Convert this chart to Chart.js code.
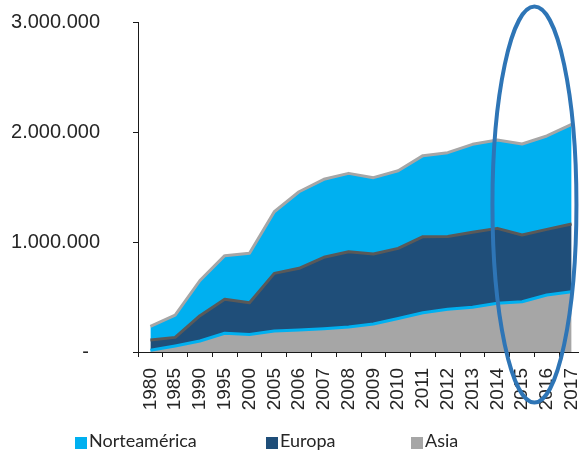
<!DOCTYPE html>
<html>
<head>
<meta charset="utf-8">
<script src="https://cdn.jsdelivr.net/npm/chart.js@4.4.0/dist/chart.umd.min.js"></script>
<style>
  html, body { margin: 0; padding: 0; background: #fff; overflow: hidden; }
  #wrap { width: 590px; height: 452px; }
</style>
</head>
<body>
<div id="wrap"><canvas id="areaChart" width="590" height="452"></canvas></div>
<script>
// Years on the x axis
const years = ['1980', '1985', '1990', '1995', '2000', '2005', '2006', '2007', '2008',
               '2009', '2010', '2011', '2012', '2013', '2014', '2015', '2016', '2017'];

// Stacked series (bottom to top)
const asia = [15000, 55000, 100000, 170000, 160000, 190000, 200000, 212000, 227000,
              255000, 305000, 357000, 388000, 406000, 443000, 457000, 518000, 548000];
const europa = [94000, 78000, 230000, 310000, 288000, 525000, 561000, 649000, 685000,
                636000, 637000, 691000, 662000, 682000, 681000, 607000, 597000, 616000];
const norteamerica = [123000, 203000, 320000, 396000, 449000, 560000, 696000, 709000, 712000,
                      694000, 706000, 737000, 762000, 800000, 803000, 827000, 849000, 906000];

// Y axis tick labels
const yTickLabels = ['-  ', '1.000.000', '2.000.000', '3.000.000'];

const FONT_FAMILY = "'Liberation Sans', Arial, sans-serif";
const TEXT_COLOR = '#262626';

// legend drawn by hand so the items can be spaced out like the original
const legendPlugin = {
    id: 'wideLegend',
    afterDraw(chart) {
        const ctx = chart.ctx;
        const items = chart.data.datasets.slice().reverse();
        const starts = [75, 266, 411];
        const y = 441;
        ctx.save();
        ctx.font = "18px Lato, 'Liberation Sans', sans-serif";
        ctx.textBaseline = 'middle';
        items.forEach((ds, i) => {
            const x = starts[i];
            ctx.fillStyle = ds.backgroundColor;
            ctx.fillRect(x, y - 4, 12, 12);
            ctx.fillStyle = TEXT_COLOR;
            ctx.fillText(ds.label, x + 14, y);
        });
        ctx.restore();
    }
};

// highlight ring around the last years
const ringPlugin = {
    id: 'ring',
    afterDraw(chart) {
        const xs = chart.scales.x;
        const ys = chart.scales.y;
        const cx = (xs.getPixelForValue(15) + xs.getPixelForValue(16)) / 2;
        const cy = ys.getPixelForValue(1340000);
        const ctx = chart.ctx;
        ctx.save();
        ctx.beginPath();
        ctx.ellipse(cx, cy, 42, 198, 0, 0, Math.PI * 2);
        ctx.strokeStyle = '#2E75B6';
        ctx.lineWidth = 4;
        ctx.stroke();
        ctx.restore();
    }
};

// no extra room around the plot for overhanging tick labels
function noPadding(scale) {
    scale.paddingTop = 0;
    scale.paddingBottom = 0;
    scale.paddingLeft = 0;
    scale.paddingRight = 0;
}

const ctx = document.getElementById('areaChart').getContext('2d');
const chart = new Chart(ctx, {
    type: 'line',
    data: {
        labels: years,
        datasets: [
            {
                label: 'Asia',
                data: asia,
                backgroundColor: '#A6A6A6',
                borderColor: '#00B0F0',
                fill: 'origin'
            },
            {
                label: 'Europa',
                data: europa,
                backgroundColor: '#1F4E79',
                borderColor: '#595959',
                fill: '-1'
            },
            {
                label: 'Norteamérica',
                data: norteamerica,
                backgroundColor: '#00B0F0',
                borderColor: '#A6A6A6',
                fill: '-1'
            }
        ]
    },
    options: {
        responsive: false,
        animation: false,
        devicePixelRatio: 1,
        layout: { padding: { top: 22, right: 6, bottom: 40, left: 0 } },
        elements: {
            line: { borderWidth: 3, tension: 0, borderJoinStyle: 'round' },
            point: { radius: 0, hoverRadius: 0 }
        },
        plugins: {
            legend: { display: false },
            tooltip: { enabled: false }
        },
        scales: {
            x: {
                offset: true,
                grid: {
                    offset: true,
                    drawOnChartArea: false,
                    drawTicks: true,
                    tickLength: 5,
                    color: '#1a1a1a'
                },
                border: { color: '#1a1a1a', width: 1 },
                ticks: {
                    autoSkip: false,
                    minRotation: 90,
                    maxRotation: 90,
                    padding: 11,
                    color: TEXT_COLOR,
                    font: { family: FONT_FAMILY, size: 19 }
                },
                afterFit(scale) {
                    noPadding(scale);
                    scale.height = 60;
                }
            },
            y: {
                stacked: true,
                min: 0,
                max: 3000000,
                grid: {
                    drawOnChartArea: false,
                    drawTicks: true,
                    tickLength: 5,
                    color: '#1a1a1a'
                },
                border: { color: '#1a1a1a', width: 1 },
                ticks: {
                    stepSize: 1000000,
                    padding: 33,
                    color: TEXT_COLOR,
                    font: { family: FONT_FAMILY, size: 20 },
                    callback: (value, i) => yTickLabels[i]
                },
                afterFit(scale) {
                    noPadding(scale);
                    scale.width = 138;
                }
            }
        }
    },
    plugins: [legendPlugin, ringPlugin]
});
</script>
</body>
</html>
